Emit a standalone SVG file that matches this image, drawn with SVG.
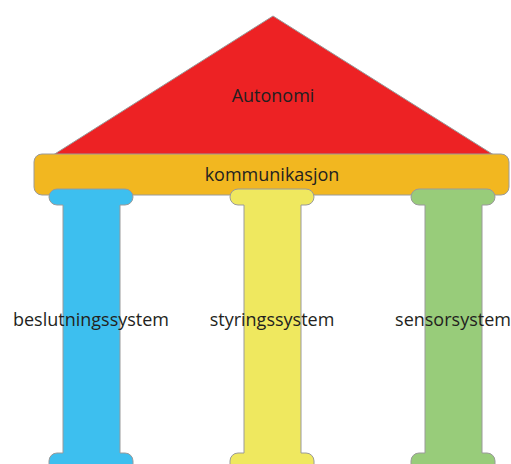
<svg xmlns="http://www.w3.org/2000/svg" width="511" height="464" viewBox="0 0 511 464">
<style>
.sh{stroke:#9a9a9a;stroke-width:1}
.t{font-family:"Open Sans","Noto Sans",sans-serif;font-size:18px;fill:#231f20;text-anchor:middle}
</style>
<defs>
<path id="pillar" d="M 8 189 H 76 A 8 8 0 0 1 76 205 H 71 V 453 H 76 A 8 8 0 0 1 84 461 V 470 H 0 V 461 A 8 8 0 0 1 8 453 H 14 V 205 H 8 A 8 8 0 0 1 8 189 Z"/>
</defs>
<rect width="511" height="464" fill="#ffffff"/>
<g id="roof">
<polygon class="sh" points="273,16 497,157 50,157" fill="#ed2224"/>
<text class="t" x="273" y="102">Autonomi</text>
</g>
<g id="bar">
<rect class="sh" x="34" y="154" width="475" height="41" rx="8" fill="#f2b720"/>
<text class="t" x="272" y="181">kommunikasjon</text>
</g>
<g id="pillar-blue">
<use href="#pillar" class="sh" fill="#3dbfef" transform="translate(49,0)"/>
</g>
<g id="pillar-yellow">
<use href="#pillar" class="sh" fill="#efe85f" transform="translate(230,0)"/>
</g>
<g id="pillar-green">
<use href="#pillar" class="sh" fill="#98cc7a" transform="translate(411,0)"/>
</g>
<g id="labels">
<text class="t" x="91" y="326">beslutningssystem</text>
<text class="t" x="272" y="326">styringssystem</text>
<text class="t" x="453" y="326">sensorsystem</text>
</g>
<g id="connectors"></g>
</svg>
